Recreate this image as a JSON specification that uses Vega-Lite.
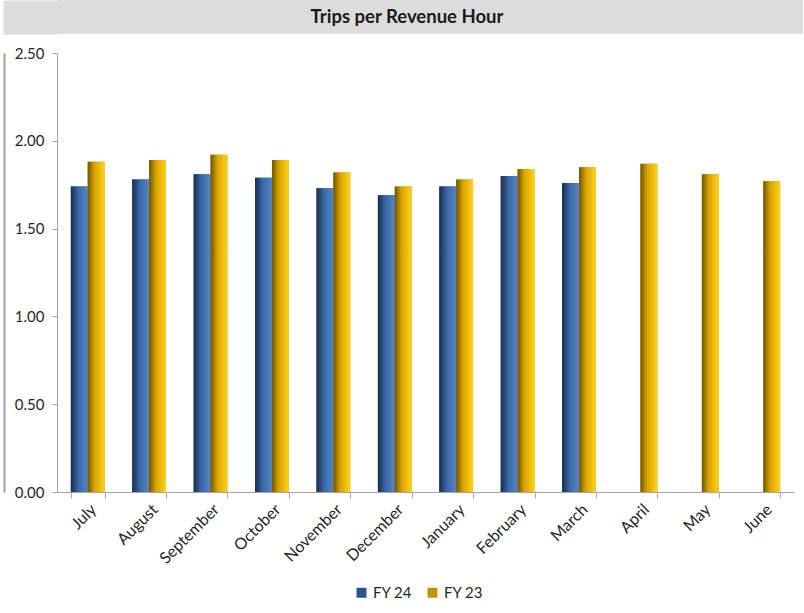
{
  "$schema": "https://vega.github.io/schema/vega-lite/v6.json",
  "padding": {"left": 4, "top": 0, "right": 0, "bottom": 0},
  "background": "white",
  "config": {"font": "Lato", "view": {"stroke": null}},
  "spacing": 12,
  "columns": 1,
  "concat": [
    {
      "width": 746,
      "height": 34,
      "view": {"fill": "#dcdcdc", "stroke": null},
      "data": {"values": [{"t": "Trips per Revenue Hour"}]},
      "mark": {"type": "text", "fontSize": 18.5, "fontWeight": "bold", "color": "#1a1a1a", "dx": -23},
      "encoding": {
        "text": {"field": "t", "type": "nominal"},
        "y": {
          "field": "t",
          "type": "nominal",
          "axis": {
            "orient": "left",
            "labels": false,
            "ticks": false,
            "title": null,
            "grid": false,
            "domainColor": "#dcdcdc",
            "domainWidth": 54,
            "offset": 27
          }
        }
      }
    },
    {
      "width": 737,
      "height": 439,
      "data": {
        "values": [
          {"month": "July", "series": "FY 24", "value": 1.74},
          {"month": "July", "series": "FY 23", "value": 1.88},
          {"month": "August", "series": "FY 24", "value": 1.78},
          {"month": "August", "series": "FY 23", "value": 1.89},
          {"month": "September", "series": "FY 24", "value": 1.81},
          {"month": "September", "series": "FY 23", "value": 1.92},
          {"month": "October", "series": "FY 24", "value": 1.79},
          {"month": "October", "series": "FY 23", "value": 1.89},
          {"month": "November", "series": "FY 24", "value": 1.73},
          {"month": "November", "series": "FY 23", "value": 1.82},
          {"month": "December", "series": "FY 24", "value": 1.69},
          {"month": "December", "series": "FY 23", "value": 1.74},
          {"month": "January", "series": "FY 24", "value": 1.74},
          {"month": "January", "series": "FY 23", "value": 1.78},
          {"month": "February", "series": "FY 24", "value": 1.80},
          {"month": "February", "series": "FY 23", "value": 1.84},
          {"month": "March", "series": "FY 24", "value": 1.76},
          {"month": "March", "series": "FY 23", "value": 1.85},
          {"month": "April", "series": "FY 23", "value": 1.87},
          {"month": "May", "series": "FY 23", "value": 1.81},
          {"month": "June", "series": "FY 23", "value": 1.77}
        ]
      },
      "encoding": {
        "x": {
          "field": "month",
          "type": "nominal",
          "sort": ["July", "August", "September", "October", "November", "December", "January", "February", "March", "April", "May", "June"],
          "scale": {"paddingInner": 0.45, "paddingOuter": 0.225},
          "axis": {
            "title": null,
            "labelAngle": -45,
            "labelFontSize": 16,
            "labelColor": "#262626",
            "tickBand": "extent",
            "tickSize": 6,
            "domainColor": "#a6a6a6",
            "tickColor": "#a6a6a6",
            "labelPadding": 3
          }
        },
        "xOffset": {
          "field": "series",
          "type": "nominal",
          "sort": ["FY 24", "FY 23"],
          "scale": {"domain": ["FY 24", "FY 23"]}
        },
        "y": {
          "field": "value",
          "type": "quantitative",
          "scale": {"domain": [0, 2.5]}
        }
      },
      "layer": [
        {
          "mark": {"type": "bar"},
          "encoding": {
            "color": {
              "field": "series",
              "type": "nominal",
              "scale": {"domain": ["FY 24", "FY 23"], "range": ["#2b5590", "#c29600"]},
              "legend": {
                "orient": "none",
                "legendX": 297,
                "legendY": 585,
                "direction": "horizontal",
                "title": null,
                "symbolType": "square",
                "symbolSize": 100,
                "labelFontSize": 15,
                "labelColor": "#262626",
                "columnPadding": 12
              }
            },
            "y": {
              "field": "value",
              "type": "quantitative",
              "scale": {"domain": [0, 2.5]},
              "axis": {
                "orient": "left",
                "offset": 53,
                "labels": false,
                "ticks": false,
                "grid": false,
                "title": null,
                "domainColor": "#a0a0a0",
                "domainWidth": 2
              }
            }
          }
        },
        {
          "transform": [{"filter": "datum.series == 'FY 24'"}],
          "mark": {
            "type": "bar",
            "fill": {
              "gradient": "linear", "x1": 0, "y1": 0, "x2": 1, "y2": 0,
              "stops": [
                {"offset": 0, "color": "#172c4f"},
                {"offset": 0.45, "color": "#3a68a8"},
                {"offset": 1, "color": "#5585c4"}
              ]
            }
          },
          "encoding": {
            "y": {
              "field": "value",
              "type": "quantitative",
              "scale": {"domain": [0, 2.5]},
              "axis": {
                "orient": "left",
                "values": [0, 0.5, 1, 1.5, 2, 2.5],
                "format": ".2f",
                "title": null,
                "domainColor": "#a6a6a6",
                "tickColor": "#a6a6a6",
                "tickSize": 5,
                "gridColor": "#b3b3b3",
                "labelFontSize": 15,
                "labelColor": "#262626",
                "labelPadding": 8
              }
            }
          }
        },
        {
          "transform": [{"filter": "datum.series == 'FY 23'"}],
          "mark": {
            "type": "bar",
            "fill": {
              "gradient": "linear", "x1": 0, "y1": 0, "x2": 1, "y2": 0,
              "stops": [
                {"offset": 0, "color": "#6e5400"},
                {"offset": 0.4, "color": "#d9a300"},
                {"offset": 1, "color": "#ffd21a"}
              ]
            }
          },
          "encoding": {
            "y": {
              "field": "value",
              "type": "quantitative",
              "scale": {"domain": [0, 2.5]},
              "axis": null
            }
          }
        }
      ],
      "resolve": {"axis": {"y": "independent"}}
    }
  ]
}
